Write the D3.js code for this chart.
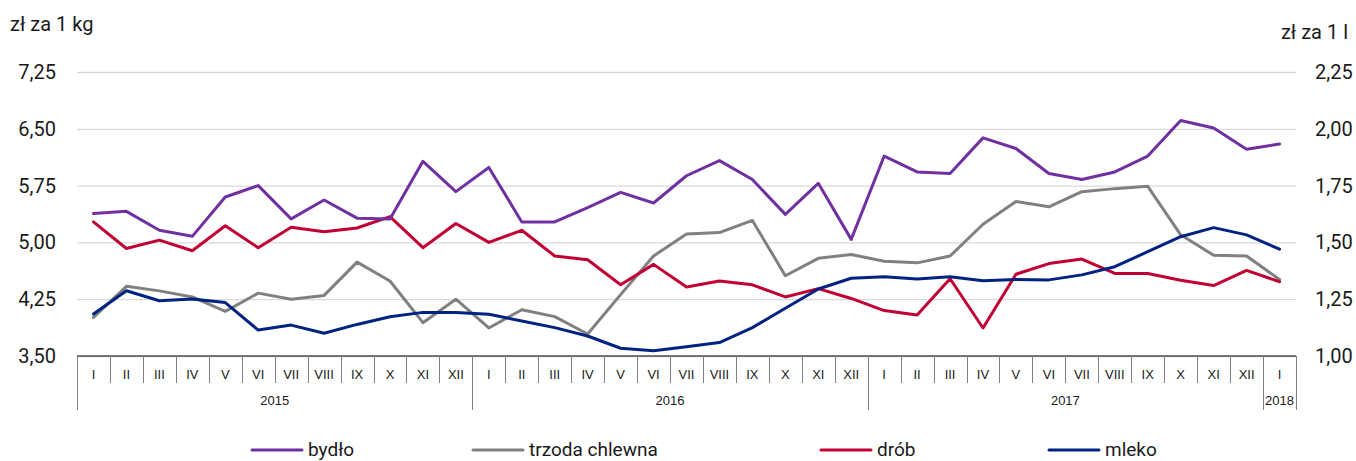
<!DOCTYPE html>
<html>
<head>
<meta charset="utf-8">
<script src="https://cdn.jsdelivr.net/npm/d3@7"></script>
<style>
  body { margin: 0; background: #fff; }
  svg text { fill: #1a1a1a; }
  .tick-label { font-family: Roboto, "Noto Sans", sans-serif; font-size: 20px; }
  .unit { font-family: Roboto, "Noto Sans", sans-serif; font-size: 20px; }
  .month { font-family: "Liberation Sans", Arial, sans-serif; font-size: 13px; }
  .year { font-family: "Liberation Sans", Arial, sans-serif; font-size: 13px; }
  .legend { font-family: Roboto, "Noto Sans", sans-serif; font-size: 19px; }
</style>
</head>
<body>
<script>
// --------- DATA ---------
const months = ["I","II","III","IV","V","VI","VII","VIII","IX","X","XI","XII"];
const years = ["2015", "2016", "2017", "2018"];

// ceny, zł za 1 kg (lewa oś)
const bydlo = [5.38, 5.41, 5.16, 5.08, 5.60, 5.75, 5.31, 5.56, 5.32, 5.31, 6.07, 5.67,
               5.99, 5.27, 5.27, 5.46, 5.66, 5.52, 5.88, 6.08, 5.83, 5.37, 5.78, 5.04,
               6.14, 5.93, 5.91, 6.38, 6.24, 5.91, 5.83, 5.93, 6.14, 6.61, 6.51, 6.23,
               6.30];
const trzoda = [4.01, 4.42, 4.36, 4.28, 4.09, 4.33, 4.25, 4.30, 4.74, 4.49, 3.94, 4.25,
                3.87, 4.11, 4.02, 3.79, 4.31, 4.82, 5.11, 5.13, 5.29, 4.56, 4.79, 4.84,
                4.75, 4.73, 4.82, 5.24, 5.54, 5.47, 5.67, 5.71, 5.74, 5.10, 4.83, 4.82,
                4.51];
const drob = [5.27, 4.92, 5.03, 4.89, 5.22, 4.93, 5.20, 5.14, 5.19, 5.34, 4.93, 5.25,
              5.00, 5.16, 4.82, 4.77, 4.44, 4.71, 4.41, 4.49, 4.44, 4.28, 4.39, 4.26,
              4.10, 4.04, 4.52, 3.87, 4.58, 4.72, 4.78, 4.59, 4.59, 4.50, 4.43, 4.63,
              4.48];
// zł za 1 l (prawa oś)
const mleko = [1.185, 1.287, 1.243, 1.251, 1.235, 1.114, 1.136, 1.100, 1.139, 1.173, 1.192, 1.192,
               1.184, 1.154, 1.125, 1.088, 1.034, 1.023, 1.041, 1.059, 1.125, 1.210, 1.295, 1.342,
               1.349, 1.339, 1.349, 1.331, 1.337, 1.335, 1.357, 1.393, 1.459, 1.525, 1.565, 1.533,
               1.470];

const leftTicks = [3.50, 4.25, 5.00, 5.75, 6.50, 7.25];
const rightTicks = [1.00, 1.25, 1.50, 1.75, 2.00, 2.25];

const seriesNames = ["bydło", "trzoda chlewna", "drób", "mleko"];
const colors = ["#7030A0", "#808080", "#C00032", "#002381"];

// --------- CHART ---------
const W = 1356, H = 461;
const margin = {top: 72, right: 60, bottom: 105, left: 77};
const width = W - margin.left - margin.right,
      height = H - margin.top - margin.bottom;

const labels = [];
for (let i = 0; i < bydlo.length; i++) labels.push({m: months[i % 12], y: years[Math.floor(i / 12)], i: i});

const svg = d3.select("body").append("svg")
    .attr("width", W).attr("height", H);

const g = svg.append("g")
    .attr("transform", "translate(" + margin.left + "," + margin.top + ")");

const x = d3.scaleBand()
    .domain(labels.map(d => d.i))
    .range([0, width]);

const yL = d3.scaleLinear().domain([3.5, 7.25]).range([height, 0]);
const yR = d3.scaleLinear().domain([1.0, 2.25]).range([height, 0]);

const fmt = v => d3.format(".2f")(v).replace(".", ",");

// Gridlines
g.append("g")
    .call(d3.axisLeft(yL).tickValues(leftTicks).tickFormat("").tickSizeInner(-width).tickSizeOuter(0))
    .call(a => a.select(".domain").remove())
    .call(a => a.selectAll("line").attr("stroke", "#d9d9d9").attr("stroke-width", 1.3));

// Left axis labels
g.append("g")
    .call(d3.axisLeft(yL).tickValues(leftTicks).tickFormat(fmt).tickSize(0).tickPadding(21))
    .call(a => a.select(".domain").remove())
    .call(a => a.selectAll("text").attr("class", "tick-label").attr("fill", "#1a1a1a"));

// Right axis labels
g.append("g")
    .attr("transform", "translate(" + width + ",0)")
    .call(d3.axisRight(yR).tickValues(rightTicks).tickFormat(fmt).tickSize(0).tickPadding(19))
    .call(a => a.select(".domain").remove())
    .call(a => a.selectAll("text").attr("class", "tick-label").attr("fill", "#1a1a1a"));

// Units
svg.append("text").attr("class", "unit").attr("x", 10).attr("y", 31).text("zł za 1 kg");
svg.append("text").attr("class", "unit").attr("x", 1348).attr("y", 39)
    .attr("text-anchor", "end").text("zł za 1 l");

// Category axis
const cat = g.append("g").attr("transform", "translate(0," + height + ")");
cat.append("line").attr("x1", 0).attr("x2", width).attr("stroke", "#000").attr("stroke-width", 1.2);

const bounds = d3.range(bydlo.length + 1);
cat.selectAll(".sep").data(bounds).join("line")
    .attr("class", "sep")
    .attr("x1", i => Math.round(i * x.step()) + 0.5)
    .attr("x2", i => Math.round(i * x.step()) + 0.5)
    .attr("y1", 0)
    .attr("y2", i => (i % 12 === 0 || i === bydlo.length) ? 54 : 27)
    .attr("stroke", "#7f7f7f").attr("stroke-width", 1);

cat.selectAll(".month").data(labels).join("text")
    .attr("class", "month")
    .attr("x", d => x(d.i) + x.bandwidth() / 2)
    .attr("y", 23)
    .attr("text-anchor", "middle")
    .text(d => d.m);

cat.selectAll(".year").data(years).join("text")
    .attr("class", "year")
    .attr("x", (d, k) => {
        const first = k * 12, last = Math.min(k * 12 + 11, bydlo.length - 1);
        return (x(first) + x(last) + x.bandwidth()) / 2;
    })
    .attr("y", 49)
    .attr("text-anchor", "middle")
    .text(d => d);

// Lines
const lineL = d3.line().x((d, i) => x(i) + x.bandwidth() / 2).y(d => yL(d));
const lineR = d3.line().x((d, i) => x(i) + x.bandwidth() / 2).y(d => yR(d));

[[trzoda, lineL, 1], [drob, lineL, 2], [bydlo, lineL, 0], [mleko, lineR, 3]].forEach(([data, fn, c]) => {
    g.append("path")
        .attr("fill", "none")
        .attr("stroke", colors[c])
        .attr("stroke-width", 3)
        .attr("stroke-linejoin", "round")
        .attr("stroke-linecap", "round")
        .attr("d", fn(data));
});

// Legend
const legendX = [252, 473, 821, 1049];
const leg = svg.append("g").attr("transform", "translate(0,450)");
seriesNames.forEach((name, k) => {
    leg.append("line")
        .attr("x1", legendX[k]).attr("x2", legendX[k] + 50)
        .attr("stroke", colors[k]).attr("stroke-width", 3).attr("stroke-linecap", "round");
    leg.append("text")
        .attr("class", "legend")
        .attr("x", legendX[k] + 56)
        .attr("y", 6)
        .text(name);
});
</script>
</body>
</html>
